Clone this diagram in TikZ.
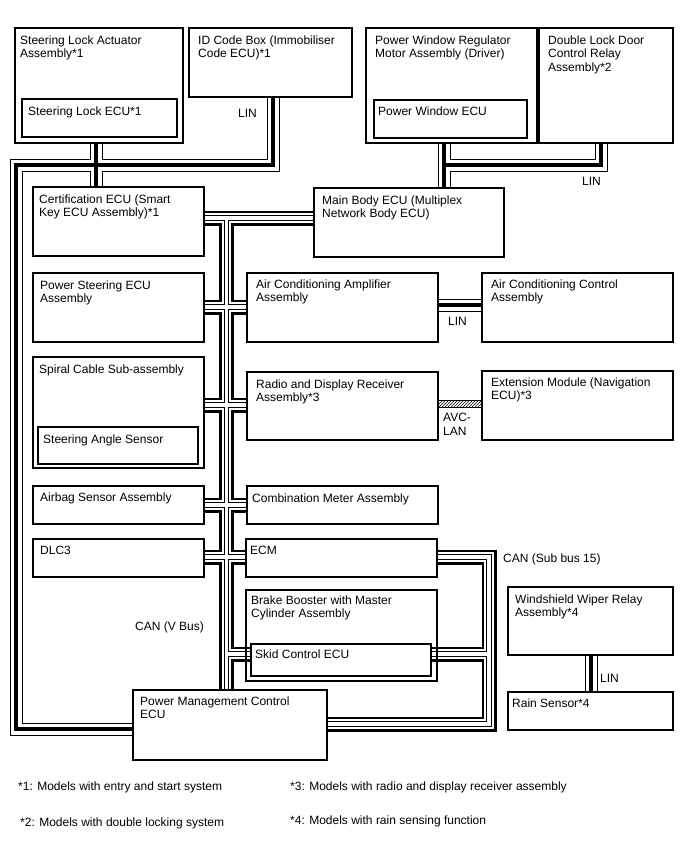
\documentclass[tikz,border=0pt]{standalone}
\usepackage{fontspec}
\setmainfont{Liberation Sans}
\usepackage{tikz}
\usetikzlibrary{calc, positioning, patterns, backgrounds}

\begin{document}
\begin{tikzpicture}[x=1pt, y=-1pt,
    ecu/.style={draw, line width=1.2pt, anchor=north west, inner sep=0pt, outer sep=0pt},
    txt/.style={anchor=north west, inner sep=0pt, align=left, font=\fontsize{12}{13.5}\selectfont},
    lbl/.style={anchor=base west, inner sep=0pt, font=\fontsize{12}{13.5}\selectfont},
    note/.style={anchor=base west, inner sep=0pt, font=\fontsize{12}{14}\selectfont}]

    \useasboundingbox (0,0) rectangle (688,852);

    % ECU boxes
    \node[ecu, minimum width=168pt, minimum height=115pt] (sla) at (15,28) {};
    \node[ecu, minimum width=155pt, minimum height=38pt] (sle) at (22,99) {};
    \node[ecu, minimum width=163pt, minimum height=69pt] (idb) at (189,28) {};
    \node[ecu, minimum width=171pt, minimum height=115pt] (pw) at (366,28) {};
    \node[ecu, minimum width=153pt, minimum height=38pt] (pwe) at (374,100) {};
    \node[ecu, minimum width=134pt, minimum height=115pt] (dl) at (539,28) {};
    \node[ecu, minimum width=171pt, minimum height=69pt] (cert) at (33,187) {};
    \node[ecu, minimum width=190pt, minimum height=69pt] (main) at (314,188) {};
    \node[ecu, minimum width=171pt, minimum height=69pt] (ps) at (33,273) {};
    \node[ecu, minimum width=191pt, minimum height=69pt] (acamp) at (247,273) {};
    \node[ecu, minimum width=191pt, minimum height=69pt] (acctl) at (482,273) {};
    \node[ecu, minimum width=171pt, minimum height=111pt] (spiral) at (33,357) {};
    \node[ecu, minimum width=160pt, minimum height=37pt] (sas) at (38,427) {};
    \node[ecu, minimum width=191pt, minimum height=68pt] (radio) at (247,372) {};
    \node[ecu, minimum width=191pt, minimum height=69pt] (ext) at (482,371) {};
    \node[ecu, minimum width=171pt, minimum height=38pt] (airbag) at (33,486) {};
    \node[ecu, minimum width=191pt, minimum height=38pt] (combi) at (247,486) {};
    \node[ecu, minimum width=171pt, minimum height=38pt] (dlc) at (33,539) {};
    \node[ecu, minimum width=191pt, minimum height=38pt] (ecm) at (246,539) {};
    \node[ecu, minimum width=191pt, minimum height=91pt] (brake) at (246,590) {};
    \node[ecu, minimum width=180pt, minimum height=32pt] (skid) at (251,644) {};
    \node[ecu, minimum width=165pt, minimum height=68pt] (wiper) at (508,587) {};
    \node[ecu, minimum width=165pt, minimum height=38pt] (rain) at (508,692) {};
    \node[ecu, minimum width=194pt, minimum height=70pt] (pm) at (133,690) {};

    % texts in the boxes
    \node[txt] (slat) at ([shift={(5,7.5)}]sla.north west) {Steering Lock Actuator\\Assembly*1};
    \node[txt] (slet) at ([shift={(6,7.5)}]sle.north west) {Steering Lock ECU*1};
    \node[txt] (idbt) at ([shift={(9,7.5)}]idb.north west) {ID Code Box (Immobiliser\\Code ECU)*1};
    \node[txt] (pwt) at ([shift={(9,7.5)}]pw.north west) {Power Window Regulator\\Motor Assembly (Driver)};
    \node[txt] (pwet) at ([shift={(4,7)}]pwe.north west) {Power Window ECU};
    \node[txt] (dlt) at ([shift={(9,7.5)}]dl.north west) {Double Lock Door\\Control Relay\\Assembly*2};
    \node[txt] (certt) at ([shift={(6,7.5)}]cert.north west) {Certification ECU (Smart\\Key ECU Assembly)*1};
    \node[txt] (maint) at ([shift={(8,7.5)}]main.north west) {Main Body ECU (Multiplex\\Network Body ECU)};
    \node[txt] (pst) at ([shift={(7,7.5)}]ps.north west) {Power Steering ECU\\Assembly};
    \node[txt] (acampt) at ([shift={(9,6.5)}]acamp.north west) {Air Conditioning Amplifier\\Assembly};
    \node[txt] (acctlt) at ([shift={(9,6.5)}]acctl.north west) {Air Conditioning Control\\Assembly};
    \node[txt] (spiralt) at ([shift={(6,7.5)}]spiral.north west) {Spiral Cable Sub-assembly};
    \node[txt] (sast) at ([shift={(5,7.5)}]sas.north west) {Steering Angle Sensor};
    \node[txt] (radiot) at ([shift={(9,7.5)}]radio.north west) {Radio and Display Receiver\\Assembly*3};
    \node[txt] (extt) at ([shift={(9,6.5)}]ext.north west) {Extension Module (Navigation\\ECU)*3};
    \node[txt] (airbagt) at ([shift={(7,6.5)}]airbag.north west) {Airbag Sensor Assembly};
    \node[txt] (combit) at ([shift={(5,7.5)}]combi.north west) {Combination Meter Assembly};
    \node[txt] (dlct) at ([shift={(7,6.5)}]dlc.north west) {DLC3};
    \node[txt] (ecmt) at ([shift={(4,6.5)}]ecm.north west) {ECM};
    \node[txt] (braket) at ([shift={(5,5.5)}]brake.north west) {Brake Booster with Master\\Cylinder Assembly};
    \node[txt] (skidt) at ([shift={(4,5.5)}]skid.north west) {Skid Control ECU};
    \node[txt] (wipert) at ([shift={(7,7.5)}]wiper.north west) {Windshield Wiper Relay\\Assembly*4};
    \node[txt] (raint) at ([shift={(4,6.5)}]rain.north west) {Rain Sensor*4};
    \node[txt] (pmt) at ([shift={(7,6.5)}]pm.north west) {Power Management Control\\ECU};

    % bus lanes
    \coordinate (slx) at (96,165);
    \coordinate (idx) at (273,165);
    \coordinate (lfx) at (16,165);
    \coordinate (lfb) at (16,729);
    \coordinate (pwx) at (444,165);
    \coordinate (dlx) at (601,165);
    \coordinate (acy) at (460,305);
    \coordinate (wpx) at (591,670);
    \coordinate (tk) at (226.5,218);
    \coordinate (b1) at (226.5,307);
    \coordinate (b2) at (226.5,405);
    \coordinate (b3) at (226.5,505);
    \coordinate (b4) at (226.5,557);
    \coordinate (b5) at (226.5,654);
    \coordinate (sb1) at (489,557);
    \coordinate (sb2) at (489,724);

    \def\linpaths{(sla.south -| slx) -- (cert.north -| slx)
        (idb.south -| idx) -- (idx) -- (lfx) -- (lfb) -- (pm.west |- lfb)
        (pw.south -| pwx) -- (main.north -| pwx)
        (dl.south -| dlx) -- (dlx) -- (pwx)
        (acamp.east |- acy) -- (acctl.west |- acy)
        (wiper.south -| wpx) -- (rain.north -| wpx)}
    \def\canpaths{(cert.east |- tk) -- (main.west |- tk)
        (tk) -- (pm.north -| tk)
        (ps.east |- b1) -- (acamp.west |- b1)
        (spiral.east |- b2) -- (radio.west |- b2)
        (airbag.east |- b3) -- (combi.west |- b3)
        (dlc.east |- b4) -- (ecm.west |- b4)
        (b5) -- (skid.west |- b5)
        (ecm.east |- sb1) -- (sb1) -- (sb2) -- (pm.east |- sb2)
        (skid.east |- b5) -- (b5 -| sb1)}

    \begin{scope}[on background layer]
        \foreach \w/\c in {13/black, 11/white, 3.5/black}
            \draw[line width=\w pt, color=\c] \linpaths;
        \foreach \w/\c in {15/black, 9.5/white, 5.5/black, 3.5/white}
            \draw[line width=\w pt, color=\c] \canpaths;
    \end{scope}

    % AVC-LAN
    \coordinate (avt) at (460,400);
    \coordinate (avb) at (460,407);
    \draw[pattern=north east lines, line width=0.8pt] (radio.east |- avt) rectangle (ext.west |- avb);

    % bus names
    \node[lbl] (linid) at (238,117) {LIN};
    \node[lbl] (lindl) at (582,185) {LIN};
    \node[lbl] (linac) at (448,325) {LIN};
    \node[txt] (avc) at (443,413) {AVC-\\LAN};
    \node[lbl] (canv) at (135,630) {CAN (V Bus)};
    \node[lbl] (cans) at (503,562) {CAN (Sub bus 15)};
    \node[lbl] (linw) at (600,682) {LIN};

    % notes
    \node[note] (n1) at (18,790) {*1: Models with entry and start system};
    \node[note] (n3) at (290,790) {*3: Models with radio and display receiver assembly};
    \node[note] (n2) at (20,826) {*2: Models with double locking system};
    \node[note] (n4) at (290,824) {*4: Models with rain sensing function};

\end{tikzpicture}
\end{document}
